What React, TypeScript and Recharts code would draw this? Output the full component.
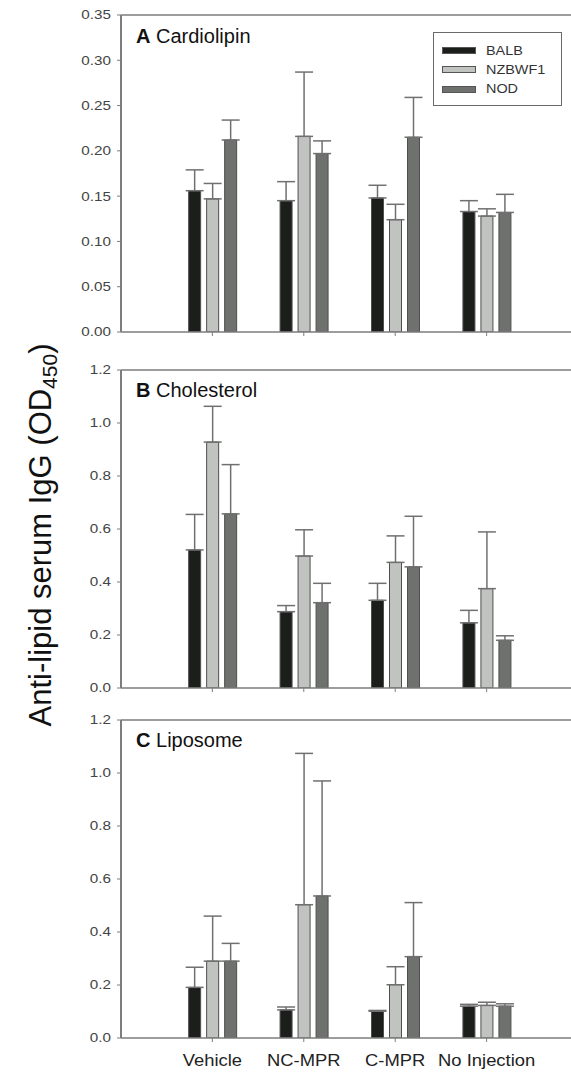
import React from 'react'
import { BarChart, Bar, XAxis, YAxis, ErrorBar, ReferenceLine, Legend } from 'recharts'

const groups = ['Vehicle', 'NC-MPR', 'C-MPR', 'No Injection']
const strains = ['BALB', 'NZBWF1', 'NOD']
const strainColors = ['#1c1e1b', '#c1c3c1', '#6f716f']

// A – Cardiolipin (mean, upper SD)
const cardioBalb = [0.156, 0.145, 0.148, 0.133]
const cardioBalbErr = [0.023, 0.021, 0.014, 0.012]
const cardioNzb = [0.147, 0.216, 0.124, 0.128]
const cardioNzbErr = [0.017, 0.071, 0.017, 0.008]
const cardioNod = [0.212, 0.197, 0.215, 0.132]
const cardioNodErr = [0.022, 0.014, 0.044, 0.02]

// B – Cholesterol
const cholBalb = [0.521, 0.288, 0.331, 0.246]
const cholBalbErr = [0.134, 0.023, 0.064, 0.047]
const cholNzb = [0.928, 0.498, 0.474, 0.375]
const cholNzbErr = [0.135, 0.099, 0.1, 0.214]
const cholNod = [0.657, 0.322, 0.457, 0.18]
const cholNodErr = [0.186, 0.073, 0.191, 0.017]

// C – Liposome
const lipoBalb = [0.191, 0.106, 0.101, 0.12]
const lipoBalbErr = [0.076, 0.011, 0.003, 0.007]
const lipoNzb = [0.29, 0.503, 0.201, 0.123]
const lipoNzbErr = [0.17, 0.571, 0.068, 0.012]
const lipoNod = [0.29, 0.536, 0.307, 0.12]
const lipoNodErr = [0.067, 0.434, 0.204, 0.009]

const ticksA = [0, 0.05, 0.1, 0.15, 0.2, 0.25, 0.3, 0.35]
const ticksBC = [0, 0.2, 0.4, 0.6, 0.8, 1.0, 1.2]

const axisColor = '#7d7d7d'
const font = '"Liberation Sans", Arial, sans-serif'

function buildRows(vals: number[][], errs: number[][]) {
  return groups.map((g, i) => {
    const row: any = { group: g }
    strains.forEach((s, k) => {
      row[s] = vals[k][i]
      row[s + 'Err'] = [0, errs[k][i]]
    })
    return row
  })
}

const dataA = buildRows([cardioBalb, cardioNzb, cardioNod], [cardioBalbErr, cardioNzbErr, cardioNodErr])
const dataB = buildRows([cholBalb, cholNzb, cholNod], [cholBalbErr, cholNzbErr, cholNodErr])
const dataC = buildRows([lipoBalb, lipoNzb, lipoNod], [lipoBalbErr, lipoNzbErr, lipoNodErr])

// the source figure is a bit stretched sideways, so small text is widened
const YTick = ({ x, y, payload, digits }: any) => (
  <g transform={`translate(${x},${y})`}>
    <text textAnchor="end" dy="0.355em" transform="scale(1.22,1)" fontSize={12.5} fill="#444" fontFamily={font}>
      {Number(payload.value).toFixed(digits)}
    </text>
  </g>
)

const XTick = ({ x, y, payload }: any) => (
  <g transform={`translate(${x},${y})`}>
    <text textAnchor="middle" dy="0.71em" transform="scale(1.15,1)" fontSize={16} fill="#222" fontFamily={font}>
      {payload.value}
    </text>
  </g>
)

function LegendBox() {
  return (
    <div style={{ width: 129, height: 74, border: '1px solid #6a6a6a', boxSizing: 'border-box', background: '#fff', paddingTop: 8, fontFamily: font }}>
      {strains.map((s, k) => (
        <div key={s} style={{ display: 'flex', alignItems: 'center', height: 19.3, marginLeft: 8 }}>
          <div style={{ width: 34, height: 7, background: strainColors[k], border: '1px solid #555', boxSizing: 'border-box' }} />
          <span style={{ marginLeft: 10, fontSize: 12, color: '#333', display: 'inline-block', transform: 'scaleX(1.2)', transformOrigin: 'left center' }}>{s}</span>
        </div>
      ))}
    </div>
  )
}

type PanelProps = {
  data: any[]
  max: number
  ticks: number[]
  digits: number
  top: number
  height: number
  showLabels?: boolean
  legend?: boolean
}

function Panel({ data, max, ticks, digits, top, height, showLabels, legend }: PanelProps) {
  return (
    <div style={{ position: 'absolute', left: 0, top }}>
      <BarChart
        width={578}
        height={height}
        data={data}
        margin={{ top: 15, right: 0, bottom: 0, left: 0 }}
        barSize={12}
        barGap={6}
      >
        <XAxis
          dataKey="group"
          interval={0}
          padding={{ left: 45.65, right: 45.65 }}
          axisLine={{ stroke: axisColor, strokeWidth: 1.5 }}
          tickLine={{ stroke: axisColor }}
          tickSize={4}
          tickMargin={13}
          height={showLabels ? 34 : 10}
          tick={showLabels ? <XTick /> : () => <g />}
        />
        <YAxis
          width={121}
          domain={[0, max]}
          ticks={ticks}
          interval={0}
          allowDataOverflow
          axisLine={{ stroke: axisColor, strokeWidth: 2 }}
          tickLine={{ stroke: axisColor }}
          tickSize={4}
          tickMargin={6}
          tick={<YTick digits={digits} />}
        />
        <ReferenceLine y={max} stroke={axisColor} strokeWidth={1.5} />
        {strains.map((s, k) => (
          <Bar key={s} dataKey={s} fill={strainColors[k]} stroke="#4f4f4f" strokeWidth={1} isAnimationActive={false}>
            <ErrorBar dataKey={s + 'Err'} direction="y" width={9} stroke="#707070" strokeWidth={1.5} />
          </Bar>
        ))}
        {legend && (
          <Legend
            layout="vertical"
            align="center"
            verticalAlign="middle"
            wrapperStyle={{ left: 433, top: 32, width: 129, height: 74 }}
            content={() => <LegendBox />}
          />
        )}
      </BarChart>
    </div>
  )
}

export default function App() {
  return (
    <div style={{ position: 'absolute', left: 0, top: 0, width: 571, height: 1072, overflow: 'hidden', background: '#fff' }}>
      <Panel data={dataA} max={0.35} ticks={ticksA} digits={2} top={0} height={342} legend />
      <Panel data={dataB} max={1.2} ticks={ticksBC} digits={1} top={355} height={343} />
      <Panel data={dataC} max={1.2} ticks={ticksBC} digits={1} top={705} height={367} showLabels />
      <svg width={571} height={1072} style={{ position: 'absolute', left: 0, top: 0, pointerEvents: 'none' }}>
        <g fontFamily={font} fontSize={20} fill="#111">
          <text x={136} y={42.5}>
            <tspan fontWeight="bold">A</tspan> Cardiolipin
          </text>
          <text x={136} y={397}>
            <tspan fontWeight="bold">B</tspan> Cholesterol
          </text>
          <text x={136} y={747}>
            <tspan fontWeight="bold">C</tspan> Liposome
          </text>
        </g>
        <text
          x={51}
          y={535}
          transform="rotate(-90 51 535)"
          textAnchor="middle"
          fontFamily={font}
          fontSize={31}
          fill="#111"
        >
          Anti-lipid serum IgG (OD
          <tspan fontSize={21} dy={6}>450</tspan>
          <tspan dy={-6}>)</tspan>
        </text>
      </svg>
    </div>
  )
}
